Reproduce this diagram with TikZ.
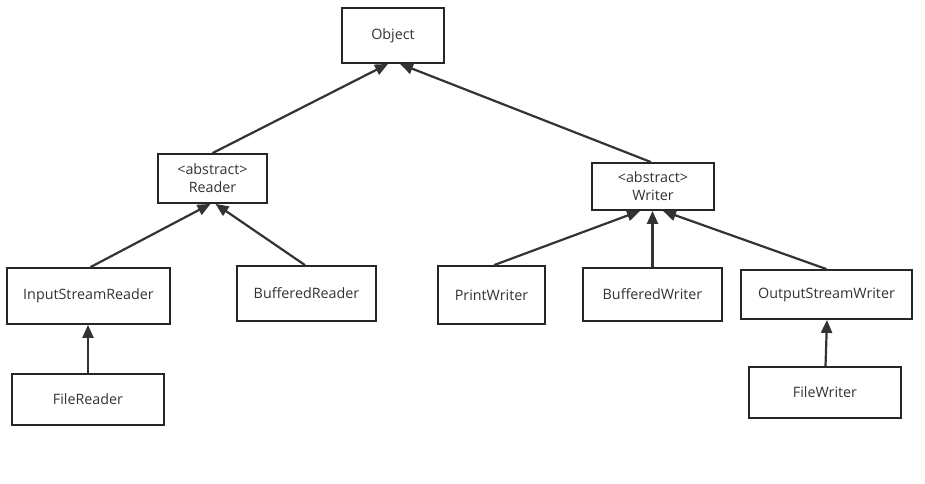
\documentclass[tikz,border=0pt]{standalone}
\usepackage{fontspec}
\setmainfont{Open Sans}
\usetikzlibrary{arrows.meta}
\definecolor{ink}{HTML}{333333}
\begin{document}
\begin{tikzpicture}[x=1pt,y=-1pt,
  cls/.style={draw=black!85,line width=1.8pt,fill=white,text=ink,font=\fontsize{14.3}{18}\selectfont,align=center,inner sep=0pt,anchor=center},
  inh/.style={draw=ink,line width=2.2pt,-{Triangle[length=13pt,width=11pt]}}]
\useasboundingbox (0,0) rectangle (925,483);
\node[cls,minimum width=102pt,minimum height=55pt] (obj) at (393,35.5) {Object};
\node[cls,minimum width=109pt,minimum height=49pt] (rd) at (212.5,178.5) {<abstract>\\Reader};
\node[cls,minimum width=122pt,minimum height=47pt] (wr) at (653,186.5) {<abstract>\\Writer};
\node[cls,minimum width=163pt,minimum height=56pt] (isr) at (88.5,296) {InputStreamReader};
\node[cls,minimum width=139pt,minimum height=55pt] (br) at (306.5,293.5) {BufferedReader};
\node[cls,minimum width=107pt,minimum height=58pt] (pw) at (491.5,295) {PrintWriter};
\node[cls,minimum width=139pt,minimum height=53pt] (bw) at (652.5,294.5) {BufferedWriter};
\node[cls,minimum width=171pt,minimum height=49pt] (osw) at (826.5,294.5) {OutputStreamWriter};
\node[cls,minimum width=152pt,minimum height=51pt] (fr) at (88,399.5) {FileReader};
\node[cls,minimum width=152pt,minimum height=51pt] (fw) at (825,392.5) {FileWriter};
\draw[inh] (rd.north) -- ([xshift=-5pt]obj.south);
\draw[inh] ([xshift=-2pt]wr.north) -- ([xshift=7pt]obj.south);
\draw[inh] ([xshift=2pt]isr.north) -- ([xshift=-2pt]rd.south);
\draw[inh] ([xshift=-1.5pt]br.north) -- ([xshift=3pt]rd.south);
\draw[inh] ([xshift=2.5pt]pw.north) -- ([xshift=-13pt]wr.south);
\draw[inh] (bw.north) -- ([xshift=-0.5pt]wr.south);
\draw[inh] (osw.north) -- ([xshift=10pt]wr.south);
\draw[inh] (fr.north) -- (isr.south -| fr.north);
\draw[inh] ([xshift=0.5pt]fw.north) -- ([xshift=0.5pt]osw.south);
\end{tikzpicture}
\end{document}
